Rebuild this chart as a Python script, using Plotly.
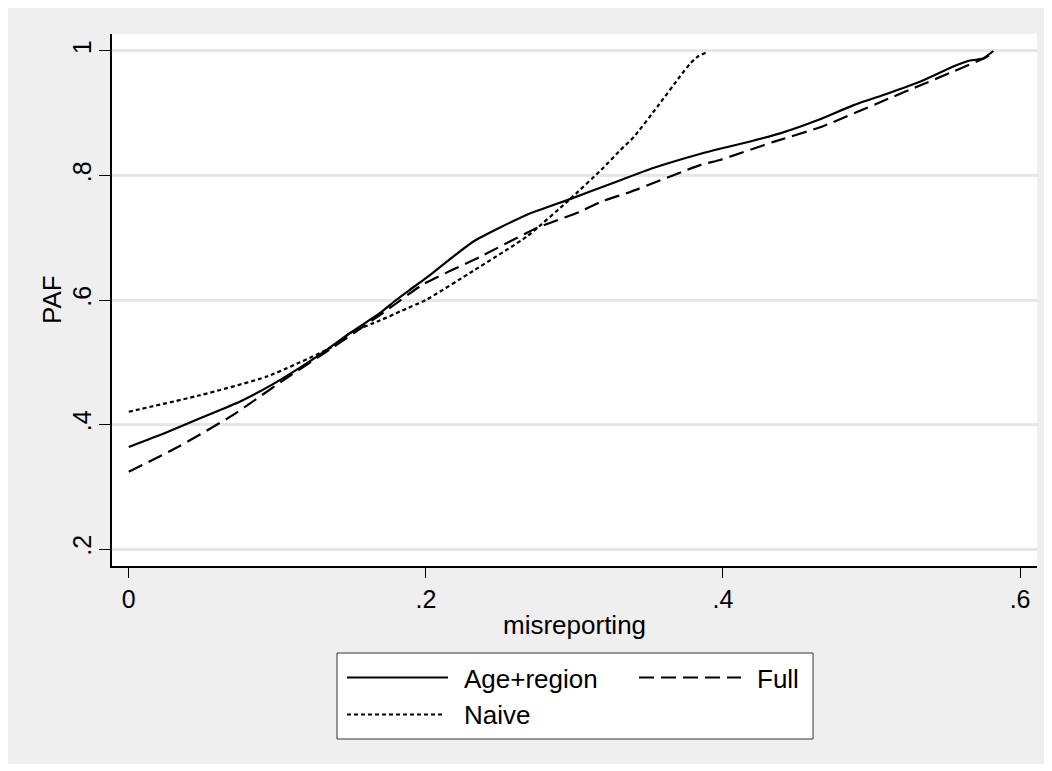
import plotly.graph_objects as go

# ---- data ----
age_region_x = [0, 0.024, 0.048, 0.075, 0.095, 0.115, 0.132, 0.149, 0.169, 0.180, 0.189, 0.2,
                0.232, 0.268, 0.297, 0.326, 0.353, 0.385, 0.398, 0.419, 0.439, 0.464, 0.488,
                0.510, 0.533, 0.555, 0.565, 0.575, 0.582]
age_region_y = [0.364, 0.386, 0.410, 0.437, 0.462, 0.491, 0.518, 0.547, 0.579, 0.600, 0.616, 0.635,
                0.694, 0.737, 0.762, 0.788, 0.812, 0.835, 0.843, 0.855, 0.868, 0.889, 0.913,
                0.931, 0.951, 0.975, 0.984, 0.988, 1.0]

full_x = [0, 0.034, 0.070, 0.104, 0.138, 0.171, 0.198, 0.237, 0.275, 0.304, 0.318, 0.338,
          0.385, 0.398, 0.434, 0.466, 0.513, 0.533, 0.555, 0.578, 0.582]
full_y = [0.324, 0.365, 0.415, 0.471, 0.525, 0.579, 0.625, 0.670, 0.716, 0.742, 0.758, 0.774,
          0.817, 0.825, 0.854, 0.878, 0.925, 0.945, 0.967, 0.991, 1.0]

naive_x = [0, 0.048, 0.093, 0.138, 0.149, 0.169, 0.183, 0.2, 0.232, 0.268, 0.297, 0.318,
           0.331, 0.34, 0.356, 0.371, 0.378, 0.383, 0.389]
naive_y = [0.4205, 0.447, 0.477, 0.526, 0.547, 0.567, 0.582, 0.600, 0.647, 0.702, 0.762, 0.809,
           0.841, 0.862, 0.911, 0.959, 0.980, 0.991, 0.998]

x_ticks = [0, 0.2, 0.4, 0.6]
x_tick_labels = ["0", ".2", ".4", ".6"]
y_ticks = [0.2, 0.4, 0.6, 0.8, 1.0]
y_tick_labels = [".2", ".4", ".6", ".8", "1"]

series_names = ["Age+region", "Full", "Naive"]
x_title = "misreporting"
y_title = "PAF"

FONT = "Liberation Sans, Arial, sans-serif"
OFF = 8  # page body margin
W, H = 1037, 756
L, R, T, B = 104, 8, 26, 198
PW, PH = W - L - R, H - T - B


def px_x(p):  # page pixel -> paper x
    return (p - OFF - L) / PW


def px_y(p):  # page pixel -> paper y
    return (H - B - (p - OFF)) / PH


fig = go.Figure()
fig.add_trace(go.Scatter(x=age_region_x, y=age_region_y, mode="lines", name=series_names[0],
                         line=dict(color="black", width=2.2, dash="solid", shape="spline", smoothing=0.5),
                         showlegend=False))
fig.add_trace(go.Scatter(x=full_x, y=full_y, mode="lines", name=series_names[1],
                         line=dict(color="black", width=2.2, dash="15px,7px", shape="spline", smoothing=0.5),
                         showlegend=False))
fig.add_trace(go.Scatter(x=naive_x, y=naive_y, mode="lines", name=series_names[2],
                         line=dict(color="black", width=2.2, dash="4px,3px", shape="spline", smoothing=0.5),
                         showlegend=False))

shapes = []
# legend box
shapes.append(dict(type="rect", xref="paper", yref="paper",
                   x0=px_x(337), x1=px_x(813), y0=px_y(739), y1=px_y(653),
                   line=dict(color="#333333", width=1), fillcolor="white", layer="above"))
row1, row2 = 677.5, 714.5
legend_items = [
    (series_names[0], 347, 448, row1, "solid", 462),
    (series_names[1], 639, 741, row1, "15px,7px", 755),
    (series_names[2], 347, 445, row2, "4px,3px", 462),
]
annotations = []
for name, a, b, yy, dash, tx in legend_items:
    shapes.append(dict(type="line", xref="paper", yref="paper",
                       x0=px_x(a), x1=px_x(b), y0=px_y(yy), y1=px_y(yy),
                       line=dict(color="black", width=2.2, dash=dash), layer="above"))
    annotations.append(dict(text=name, xref="paper", yref="paper", x=px_x(tx), y=px_y(yy + 1),
                            xanchor="left", yanchor="middle", showarrow=False,
                            font=dict(family=FONT, size=26, color="black")))
# axis titles
annotations.append(dict(text=x_title, xref="paper", yref="paper", x=0.5, y=px_y(625),
                        xanchor="center", yanchor="middle", showarrow=False,
                        font=dict(family=FONT, size=26, color="black")))
annotations.append(dict(text=y_title, xref="paper", yref="paper", x=px_x(52), y=0.5,
                        xanchor="center", yanchor="middle", showarrow=False, textangle=-90,
                        font=dict(family=FONT, size=26, color="black")))

fig.update_layout(
    width=W, height=H,
    margin=dict(l=L, r=R, t=T, b=B, autoexpand=False),
    paper_bgcolor="#efefef", plot_bgcolor="white",
    font=dict(family=FONT, size=25, color="black"),
    shapes=shapes, annotations=annotations,
    showlegend=False,
)
fig.update_xaxes(
    range=[-0.0113, 0.6114], tickvals=x_ticks, ticktext=x_tick_labels,
    showgrid=False, zeroline=False, showline=True, linecolor="black", linewidth=1.5,
    ticks="outside", ticklen=10, tickwidth=1.3, tickcolor="black",
    tickfont=dict(family=FONT, size=25, color="black"), ticklabelstandoff=0,
)
fig.update_yaxes(
    range=[0.1727, 1.0273], tickvals=y_ticks, ticktext=y_tick_labels, tickangle=-90,
    showgrid=True, gridcolor="#e6e6e6", gridwidth=2.5, zeroline=False,
    showline=True, linecolor="black", linewidth=1.5,
    ticks="outside", ticklen=11, tickwidth=1.3, tickcolor="black",
    tickfont=dict(family=FONT, size=25, color="black"), ticklabelstandoff=-2,
)

fig.write_html("out.html")
